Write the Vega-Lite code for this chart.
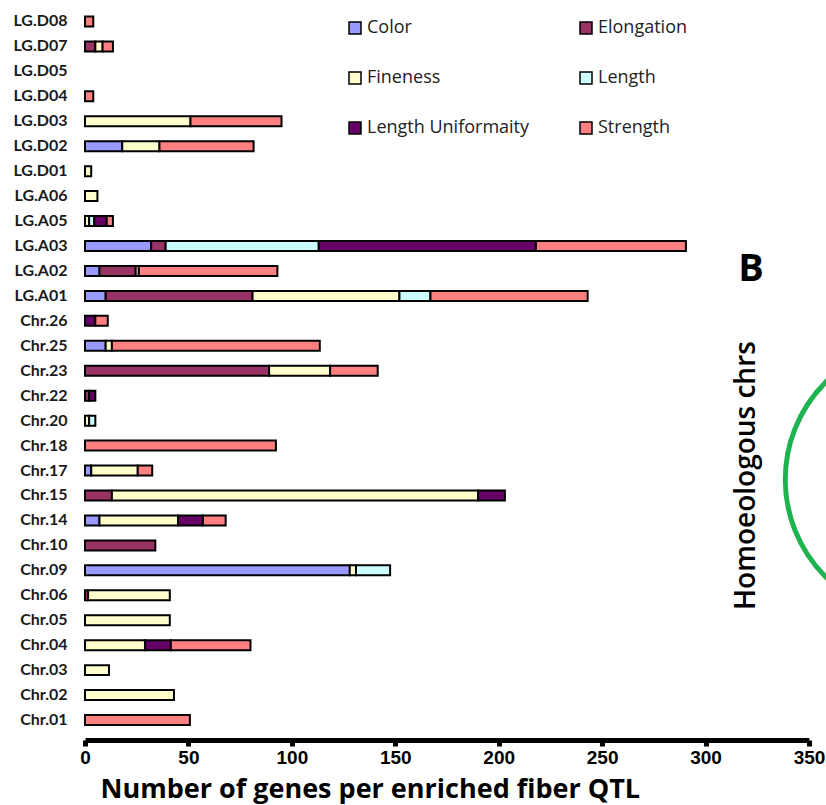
{
  "$schema": "https://vega.github.io/schema/vega-lite/v6.json",
  "width": 724,
  "height": 730,
  "autosize": {"type": "none"},
  "padding": {"left": 85, "top": 10, "right": 17, "bottom": 65},
  "background": "white",
  "config": {"view": {"stroke": null}},
  "layer": [
    {
      "data": {"values": [
        {"chr": "LG.D08", "trait": "Strength", "value": 4},
        {"chr": "LG.D07", "trait": "Elongation", "value": 5},
        {"chr": "LG.D07", "trait": "Fineness", "value": 3.5},
        {"chr": "LG.D07", "trait": "Strength", "value": 5},
        {"chr": "LG.D04", "trait": "Strength", "value": 4},
        {"chr": "LG.D03", "trait": "Fineness", "value": 51},
        {"chr": "LG.D03", "trait": "Strength", "value": 44},
        {"chr": "LG.D02", "trait": "Color", "value": 18},
        {"chr": "LG.D02", "trait": "Fineness", "value": 18},
        {"chr": "LG.D02", "trait": "Strength", "value": 45.5},
        {"chr": "LG.D01", "trait": "Fineness", "value": 3},
        {"chr": "LG.A06", "trait": "Fineness", "value": 6},
        {"chr": "LG.A05", "trait": "Fineness", "value": 2},
        {"chr": "LG.A05", "trait": "Length", "value": 2.5},
        {"chr": "LG.A05", "trait": "Length Uniformaity", "value": 6},
        {"chr": "LG.A05", "trait": "Strength", "value": 3},
        {"chr": "LG.A03", "trait": "Color", "value": 32},
        {"chr": "LG.A03", "trait": "Elongation", "value": 7},
        {"chr": "LG.A03", "trait": "Length", "value": 74},
        {"chr": "LG.A03", "trait": "Length Uniformaity", "value": 105},
        {"chr": "LG.A03", "trait": "Strength", "value": 72.5},
        {"chr": "LG.A02", "trait": "Color", "value": 7},
        {"chr": "LG.A02", "trait": "Elongation", "value": 17.5},
        {"chr": "LG.A02", "trait": "Fineness", "value": 1.5},
        {"chr": "LG.A02", "trait": "Strength", "value": 67},
        {"chr": "LG.A01", "trait": "Color", "value": 10},
        {"chr": "LG.A01", "trait": "Elongation", "value": 71},
        {"chr": "LG.A01", "trait": "Fineness", "value": 71},
        {"chr": "LG.A01", "trait": "Length", "value": 15},
        {"chr": "LG.A01", "trait": "Strength", "value": 76},
        {"chr": "Chr.26", "trait": "Length Uniformaity", "value": 5},
        {"chr": "Chr.26", "trait": "Strength", "value": 6},
        {"chr": "Chr.25", "trait": "Color", "value": 10},
        {"chr": "Chr.25", "trait": "Fineness", "value": 3},
        {"chr": "Chr.25", "trait": "Strength", "value": 100.5},
        {"chr": "Chr.23", "trait": "Elongation", "value": 89},
        {"chr": "Chr.23", "trait": "Fineness", "value": 29.5},
        {"chr": "Chr.23", "trait": "Strength", "value": 23},
        {"chr": "Chr.22", "trait": "Elongation", "value": 2},
        {"chr": "Chr.22", "trait": "Length Uniformaity", "value": 3},
        {"chr": "Chr.20", "trait": "Fineness", "value": 2},
        {"chr": "Chr.20", "trait": "Length", "value": 3},
        {"chr": "Chr.18", "trait": "Strength", "value": 92.3},
        {"chr": "Chr.17", "trait": "Color", "value": 3},
        {"chr": "Chr.17", "trait": "Fineness", "value": 22.5},
        {"chr": "Chr.17", "trait": "Strength", "value": 7},
        {"chr": "Chr.15", "trait": "Elongation", "value": 13},
        {"chr": "Chr.15", "trait": "Fineness", "value": 177},
        {"chr": "Chr.15", "trait": "Length Uniformaity", "value": 13},
        {"chr": "Chr.14", "trait": "Color", "value": 7},
        {"chr": "Chr.14", "trait": "Fineness", "value": 38},
        {"chr": "Chr.14", "trait": "Length Uniformaity", "value": 12},
        {"chr": "Chr.14", "trait": "Strength", "value": 11},
        {"chr": "Chr.10", "trait": "Elongation", "value": 34},
        {"chr": "Chr.09", "trait": "Color", "value": 128},
        {"chr": "Chr.09", "trait": "Fineness", "value": 3},
        {"chr": "Chr.09", "trait": "Length", "value": 16.5},
        {"chr": "Chr.06", "trait": "Elongation", "value": 1.5},
        {"chr": "Chr.06", "trait": "Fineness", "value": 39.5},
        {"chr": "Chr.05", "trait": "Fineness", "value": 41},
        {"chr": "Chr.04", "trait": "Fineness", "value": 29},
        {"chr": "Chr.04", "trait": "Length Uniformaity", "value": 12.5},
        {"chr": "Chr.04", "trait": "Strength", "value": 38.5},
        {"chr": "Chr.03", "trait": "Fineness", "value": 11.6},
        {"chr": "Chr.02", "trait": "Fineness", "value": 43},
        {"chr": "Chr.01", "trait": "Strength", "value": 50.7}
      ]},
      "mark": {"type": "bar", "stroke": "black", "strokeWidth": 2},
      "encoding": {
        "y": {
          "field": "chr", "type": "nominal",
          "scale": {
            "domain": ["LG.D08","LG.D07","LG.D05","LG.D04","LG.D03","LG.D02","LG.D01","LG.A06","LG.A05","LG.A03","LG.A02","LG.A01","Chr.26","Chr.25","Chr.23","Chr.22","Chr.20","Chr.18","Chr.17","Chr.15","Chr.14","Chr.10","Chr.09","Chr.06","Chr.05","Chr.04","Chr.03","Chr.02","Chr.01"],
            "range": [0, 721.5], "paddingInner": 0.6, "paddingOuter": 0.26
          },
          "axis": {
            "title": null, "domain": false, "ticks": false,
            "labelFont": "Lato", "labelFontWeight": "bold", "labelFontSize": 16,
            "labelColor": "#1a1a1a", "labelPadding": 18
          }
        },
        "x": {
          "field": "value", "type": "quantitative", "aggregate": "sum", "stack": "zero",
          "scale": {"domain": [0, 350], "nice": false},
          "axis": {
            "title": "Number of  genes per enriched  fiber  QTL",
            "values": [0, 50, 100, 150, 200, 250, 300, 350],
            "grid": false, "labelFlush": false,
            "domainColor": "black", "domainWidth": 5,
            "tickColor": "black", "tickWidth": 5, "tickSize": 6,
            "labelFont": "Liberation Sans", "labelFontWeight": "bold", "labelFontSize": 19,
            "labelColor": "black", "labelPadding": 2,
            "titleFont": "Open Sans", "titleFontWeight": "bold", "titleFontSize": 27,
            "titleColor": "black", "titleAlign": "left", "titleAnchor": "start", "titleX": 15, "titlePadding": 9
          }
        },
        "color": {
          "field": "trait", "type": "nominal",
          "scale": {
            "domain": ["Color","Elongation","Fineness","Length","Length Uniformaity","Strength"],
            "range": ["#9999ff","#993366","#ffffcc","#ccffff","#660066","#ff8080"]
          },
          "legend": {
            "title": null, "orient": "none", "legendX": 261, "legendY": 9,
            "columns": 2, "direction": "horizontal",
            "symbolType": "square", "symbolSize": 144, "symbolStrokeColor": "black", "symbolStrokeWidth": 1.5,
            "labelFont": "Open Sans", "labelFontSize": 18, "labelColor": "#222", "labelOffset": 3, "labelLimit": 300,
            "rowPadding": 32, "columnPadding": 47, "padding": 0, "symbolOpacity": 1
          }
        }
      }
    },
    {
      "mark": {"type": "rule", "stroke": "black", "strokeWidth": 5},
      "encoding": {"x": {"datum": 0}}
    },
    {
      "data": {"values": [{"chr": "Chr.17", "x": 405}]},
      "mark": {"type": "point", "shape": "circle", "filled": false, "stroke": "#1db34f", "strokeWidth": 5, "size": 75625, "opacity": 1, "yOffset": 9, "clip": false},
      "encoding": {
        "x": {"field": "x", "type": "quantitative"},
        "y": {"field": "chr", "type": "nominal"}
      }
    },
    {
      "data": {"values": [{"chr": "LG.A02", "x": 322, "label": "B"}]},
      "mark": {"type": "text", "font": "Open Sans", "fontWeight": "bold", "fontSize": 38, "color": "black", "align": "center", "baseline": "middle", "yOffset": -1},
      "encoding": {
        "x": {"field": "x", "type": "quantitative"},
        "y": {"field": "chr", "type": "nominal"},
        "text": {"field": "label"}
      }
    },
    {
      "data": {"values": [{"chr": "Chr.17", "x": 320, "label": "Homoeologous chrs"}]},
      "mark": {"type": "text", "font": "Open Sans", "fontWeight": 600, "fontSize": 28, "color": "black", "align": "center", "baseline": "middle", "angle": 270, "yOffset": 5},
      "encoding": {
        "x": {"field": "x", "type": "quantitative"},
        "y": {"field": "chr", "type": "nominal"},
        "text": {"field": "label"}
      }
    }
  ]
}
